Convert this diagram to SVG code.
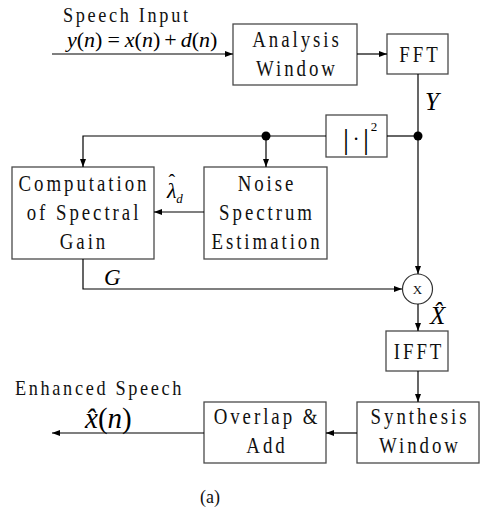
<svg xmlns="http://www.w3.org/2000/svg" width="481" height="512" viewBox="0 0 481 512">
  <style>
    .box { fill: #ffffff; stroke: #4a4a4a; stroke-width: 1.3; }
    .wire { fill: none; stroke: #000000; stroke-width: 1.2; }
    .lbl { font-family: Liberation Serif, Times New Roman, serif; font-size: 23px; letter-spacing: 3.6px; text-anchor: middle; fill: #111111; }
    .cap { font-family: Liberation Serif, Times New Roman, serif; font-size: 22px; letter-spacing: 3.2px; fill: #111111; }
    .math { font-family: Liberation Serif, Times New Roman, serif; font-style: italic; fill: #000000; }
    .up { font-style: normal; }
    .dot { fill: #000000; }
  </style>
  <defs>
    <marker id="arrow" viewBox="0 0 8 6" refX="8" refY="3" markerWidth="8" markerHeight="6" markerUnits="userSpaceOnUse" orient="auto">
      <path d="M0,0 L8,3 L0,6 Z" fill="#000000"/>
    </marker>
  </defs>

  <!-- input caption -->
  <g id="input-label">
    <g transform="translate(63 0) scale(0.83 1)">
      <text class="cap" x="0" y="22">Speech Input</text>
    </g>
    <text class="math" x="67" y="47" font-size="22">y<tspan class="up">(</tspan>n<tspan class="up">)</tspan><tspan class="up" dx="5">=</tspan><tspan dx="5">x</tspan><tspan class="up">(</tspan>n<tspan class="up">)</tspan><tspan class="up" dx="4">+</tspan><tspan dx="4">d</tspan><tspan class="up">(</tspan>n<tspan class="up">)</tspan></text>
  </g>

  <g id="analysis-window">
    <rect class="box" x="233" y="24" width="124" height="61"/>
    <g transform="translate(297 0) scale(0.82 1)">
      <text class="lbl" x="0" y="47">Analysis</text>
      <text class="lbl" x="0" y="76">Window</text>
    </g>
  </g>

  <g id="fft">
    <rect class="box" x="387" y="34" width="61" height="40"/>
    <g transform="translate(420 0) scale(0.82 1)">
      <text class="lbl" x="0" y="62">FFT</text>
    </g>
  </g>

  <g id="magnitude-squared">
    <rect class="box" x="326" y="115" width="61" height="42"/>
    <text class="math up" x="346" y="149" font-size="30" text-anchor="middle">|</text>
    <text class="math up" x="356" y="146" font-size="20" text-anchor="middle">·</text>
    <text class="math up" x="366" y="149" font-size="30" text-anchor="middle">|</text>
    <text class="math up" x="374" y="131" font-size="13" text-anchor="middle">2</text>
  </g>

  <g id="noise-estimation">
    <rect class="box" x="204" y="167" width="123" height="92"/>
    <g transform="translate(267 0) scale(0.82 1)">
      <text class="lbl" x="0" y="191">Noise</text>
      <text class="lbl" x="0" y="220">Spectrum</text>
      <text class="lbl" x="0" y="249">Estimation</text>
    </g>
  </g>

  <g id="spectral-gain">
    <rect class="box" x="12" y="167" width="142" height="92"/>
    <g transform="translate(84 0) scale(0.82 1)">
      <text class="lbl" x="0" y="191">Computation</text>
      <text class="lbl" x="0" y="220">of Spectral</text>
      <text class="lbl" x="0" y="249">Gain</text>
    </g>
  </g>

  <g id="multiplier">
    <circle cx="417.5" cy="289" r="15" fill="#ffffff" stroke="#333333" stroke-width="1.2"/>
    <text x="417.5" y="294" font-family="Liberation Serif, serif" font-size="13" text-anchor="middle" fill="#111111">X</text>
  </g>

  <g id="ifft">
    <rect class="box" x="386" y="331" width="62" height="40"/>
    <g transform="translate(419 0) scale(0.82 1)">
      <text class="lbl" x="0" y="359">IFFT</text>
    </g>
  </g>

  <g id="synthesis-window">
    <rect class="box" x="357" y="402" width="122" height="61"/>
    <g transform="translate(420 0) scale(0.82 1)">
      <text class="lbl" x="0" y="424">Synthesis</text>
      <text class="lbl" x="0" y="453">Window</text>
    </g>
  </g>

  <g id="overlap-add">
    <rect class="box" x="204" y="402" width="122" height="61"/>
    <g transform="translate(267 0) scale(0.82 1)">
      <text class="lbl" x="0" y="424">Overlap &amp;</text>
      <text class="lbl" x="0" y="453">Add</text>
    </g>
  </g>

  <!-- output caption -->
  <g id="output-label">
    <g transform="translate(15 0) scale(0.83 1)">
      <text class="cap" x="0" y="395">Enhanced Speech</text>
    </g>
    <text class="math" x="85" y="428" font-size="29">x̂<tspan class="up">(</tspan>n<tspan class="up">)</tspan></text>
  </g>

  <!-- connectors -->
  <g id="connectors">
    <line class="wire" x1="52" y1="54" x2="233" y2="54" marker-end="url(#arrow)"/>
    <line class="wire" x1="357" y1="54" x2="387" y2="54" marker-end="url(#arrow)"/>
    <line class="wire" x1="418" y1="74" x2="418" y2="274" marker-end="url(#arrow)"/>
    <line class="wire" x1="387" y1="136" x2="418" y2="136"/>
    <polyline class="wire" points="326,136 83,136 83,167" marker-end="url(#arrow)"/>
    <line class="wire" x1="266" y1="136" x2="266" y2="167" marker-end="url(#arrow)"/>
    <line class="wire" x1="204" y1="212" x2="154" y2="212" marker-end="url(#arrow)"/>
    <polyline class="wire" points="83,259 83,289 402,289" marker-end="url(#arrow)"/>
    <line class="wire" x1="418" y1="304" x2="418" y2="331" marker-end="url(#arrow)"/>
    <line class="wire" x1="418" y1="371" x2="418" y2="402" marker-end="url(#arrow)"/>
    <line class="wire" x1="357" y1="433" x2="326" y2="433" marker-end="url(#arrow)"/>
    <line class="wire" x1="204" y1="433" x2="52" y2="433" marker-end="url(#arrow)"/>
    <circle class="dot" cx="418" cy="136" r="4.5"/>
    <circle class="dot" cx="266" cy="136" r="4.5"/>
  </g>

  <!-- signal labels -->
  <g id="signal-labels">
    <text class="math" x="425" y="110" font-size="25">Y</text>
    <text class="math" x="167" y="198" font-size="22">λ<tspan class="up" font-size="20" dx="-8" dy="-9">ˆ</tspan><tspan font-size="13" dx="1" dy="14">d</tspan></text>
    <text class="math" x="104" y="285" font-size="23">G</text>
    <text class="math" x="430" y="324" font-size="25">X̂</text>
  </g>

  <g id="caption">
    <text x="210" y="503" font-family="Liberation Serif, serif" font-size="18" text-anchor="middle" fill="#111111">(a)</text>
  </g>
</svg>
